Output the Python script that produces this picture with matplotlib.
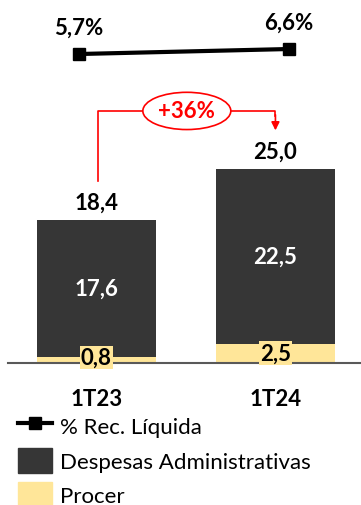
import matplotlib.pyplot as plt
from matplotlib.lines import Line2D
from matplotlib.patches import Patch

categorias = ["1T23", "1T24"]
procer = [0.8, 2.5]
despesas = [17.6, 22.5]
totais = [18.4, 25.0]
rec_liquida = [5.7, 6.6]
variacao = "+36%"

cor_escura = "#363636"
cor_amarela = "#FFE699"
cor_vermelha = "#FF0000"

plt.rcParams["font.family"] = ["Lato", "DejaVu Sans"]

W, H = 361, 506
fig = plt.figure(figsize=(W / 100, H / 100), dpi=100)

# eixo das barras: base em y=364px (de cima), 7.78 px por unidade
base_px = 364
ax = fig.add_axes([8 / W, (H - base_px) / H, (W - 8) / W, base_px / H])
ax.set_xlim(-0.494, 1.478)
ax.set_ylim(0, base_px / 7.78)
x = range(len(categorias))
ax.bar(x, procer, width=0.665, color=cor_amarela)
ax.bar(x, despesas, bottom=procer, width=0.665, color=cor_escura)
ax.axhline(0, color="#595959", lw=1.5, clip_on=False)
for s in ax.spines.values():
    s.set_visible(False)
ax.set_xticks([])
ax.set_yticks([])
ax.patch.set_alpha(0)

fs = 16
for i in x:
    ax.text(i, totais[i] + 0.9, f"{totais[i]:.1f}".replace(".", ","),
            ha="center", va="bottom", fontsize=fs, fontweight="bold")
    ax.text(i, procer[i] + despesas[i] / 2, f"{despesas[i]:.1f}".replace(".", ","),
            ha="center", va="center", fontsize=fs, fontweight="bold", color="white")
    ax.text(i, procer[i] / 2 + (0.3 if i == 0 else 0), f"{procer[i]:.1f}".replace(".", ","),
            ha="center", va="center", fontsize=fs, fontweight="bold",
            bbox=dict(fc=cor_amarela, ec="none", pad=1))
    ax.text(i, -3.2, categorias[i], ha="center", va="top",
            fontsize=fs, fontweight="bold", clip_on=False)

# seta de variacao
y_seta = 32.4
ax.plot([0.01, 0.01, 1.0, 1.0], [23.4, y_seta, y_seta, y_seta - 0.6],
        color=cor_vermelha, lw=1.2, clip_on=False)
ax.annotate("", xy=(1.0, 29.9), xytext=(1.0, y_seta - 0.5),
            arrowprops=dict(arrowstyle="-|>", color=cor_vermelha, lw=1.2,
                            mutation_scale=12, shrinkA=0, shrinkB=0))
ax.text(0.505, y_seta, variacao, ha="center", va="center", fontsize=fs,
        fontweight="bold", color=cor_vermelha,
        bbox=dict(boxstyle="ellipse,pad=0.12", fc="white", ec=cor_vermelha, lw=1.2))

# linha % receita liquida
ax2 = fig.add_axes(ax.get_position())
ax2.set_xlim(-0.338, 1.343)
ax2.set_ylim(-49.9, 15.6)
ax2.plot([0, 1], rec_liquida, color="black", lw=3, marker="s", markersize=8.5)
for i, v in enumerate(rec_liquida):
    ax2.text(i, v + 2.9, f"{v:.1f}%".replace(".", ","), ha="center", va="bottom",
             fontsize=fs, fontweight="bold")
ax2.axis("off")

handles = [
    Line2D([], [], color="black", lw=3, marker="s", markersize=8.5),
    Patch(color=cor_escura),
    Patch(color=cor_amarela),
]
labels = ["% Rec. Líquida", "Despesas Administrativas", "Procer"]
fig.legend(handles, labels, loc="upper left", bbox_to_anchor=(18 / W, 1 - 414 / H),
           frameon=False, fontsize=16, handlelength=1.55, handleheight=1.4,
           handletextpad=0.35, labelspacing=0.4, borderaxespad=0, borderpad=0)

fig.savefig("out.png", dpi=100)
